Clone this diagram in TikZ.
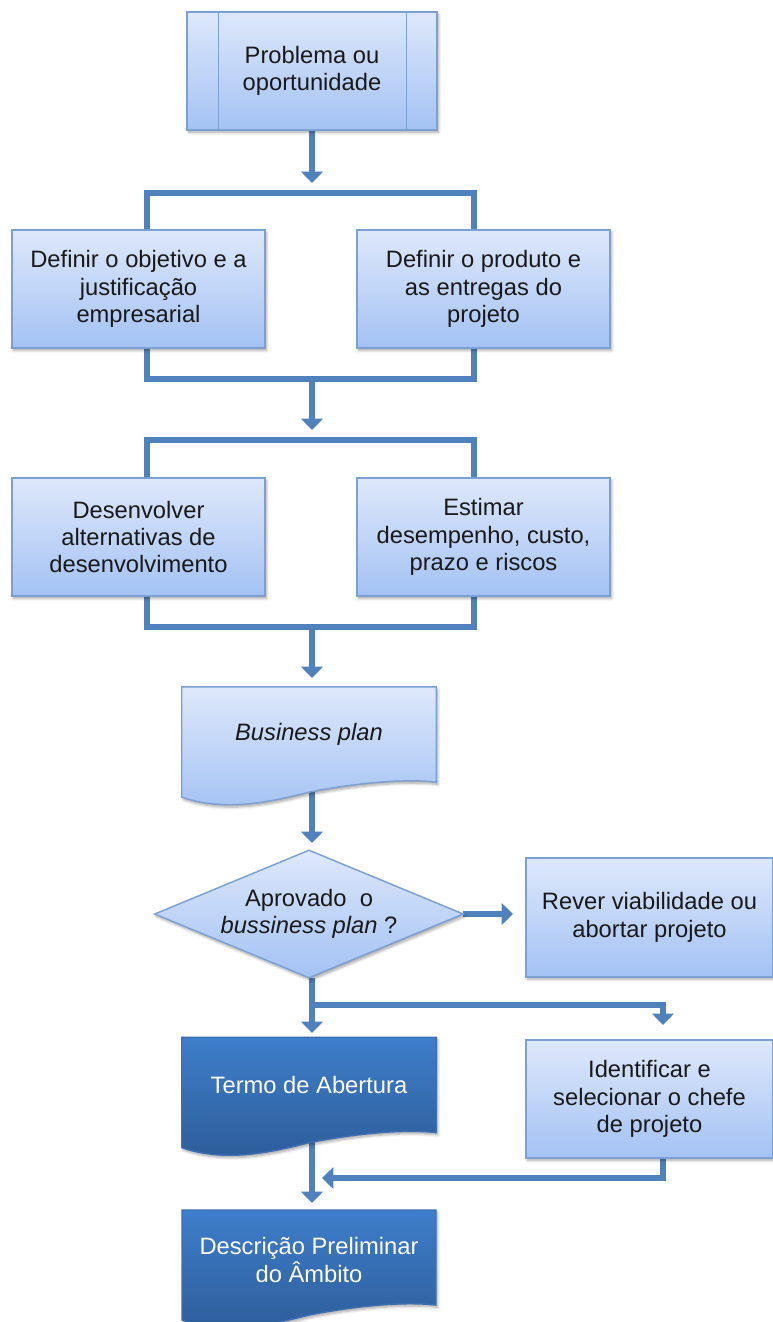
\documentclass[tikz,border=0pt]{standalone}
\usepackage{fontspec}
\setmainfont{Liberation Sans}
\usetikzlibrary{arrows.meta,shadows.blur,backgrounds,calc}

\definecolor{linkblue}{RGB}{79,129,189}
\definecolor{boxtop}{RGB}{222,232,251}
\definecolor{boxbot}{RGB}{163,194,244}
\definecolor{boxline}{RGB}{125,160,210}
\definecolor{darktop}{RGB}{62,126,203}
\definecolor{darkbot}{RGB}{45,92,152}
\definecolor{darkline}{RGB}{60,110,180}
\definecolor{ink}{RGB}{25,25,25}

% document shape: straight top and sides, wavy bottom edge
\newcommand\docpath[1]{(#1.north west) -- (#1.north east) -- (#1.south east)
  .. controls ($(#1.south east)+(-36,-4)$) and ($(#1.south east)+(-86,2)$) .. ($(#1.south east)+(-127,10)$)
  .. controls ($(#1.south west)+(88,20)$) and ($(#1.south west)+(43,30)$) .. ($(#1.south west)+(0,15)$) -- cycle}

\tikzset{
  every node/.style={font=\fontsize{17.8}{20.6}\selectfont, text=ink, align=center},
  softshadow/.style={blur shadow={shadow xshift=1.2pt, shadow yshift=-1.8pt,
      shadow blur radius=2pt, shadow opacity=35, shadow blur steps=6}},
  lightfill/.style={top color=boxtop, bottom color=boxbot, draw=boxline, line width=1.1pt, softshadow},
  darkfill/.style={top color=darktop, bottom color=darkbot, draw=darkline, line width=1.1pt, softshadow},
  stepbox/.style={lightfill, minimum width=189.75pt, minimum height=88.5pt, inner sep=0pt},
  sidebox/.style={lightfill, minimum width=185.25pt, minimum height=89pt, inner sep=0pt},
  doctext/.style={minimum width=190.5pt, minimum height=71pt, inner sep=0pt},
  conn/.style={draw=linkblue, line width=4.5pt},
  arr/.style={conn, -{Triangle[width=16pt,length=8.5pt]}},
}

\begin{document}
\begin{tikzpicture}[x=0.75pt, y=-0.75pt]
\useasboundingbox (0,0) rectangle (773,1322);

% process boxes
\node[stepbox, minimum width=187.5pt] (prob) at (312,71) {Problema ou\\oportunidade};
\draw[boxline, line width=1.1pt] ([xshift=24pt]prob.north west) -- ([xshift=24pt]prob.south west);
\draw[boxline, line width=1.1pt] ([xshift=-23.25pt]prob.north east) -- ([xshift=-23.25pt]prob.south east);

\node[stepbox] (obj)  at (138.5,289) {Definir o objetivo e a\\justificação\\empresarial};
\node[stepbox] (prod) at (483.5,289) {Definir o produto e\\as entregas do\\projeto};
\node[stepbox] (dev)  at (138.5,537) {Desenvolver\\alternativas de\\desenvolvimento};
\node[stepbox] (est)  at (483.5,537) {Estimar\\desempenho, custo,\\prazo e riscos};

\node[doctext] (bp) at (309,734.5) {\itshape Business plan};
\node[minimum width=231pt, minimum height=95.25pt, inner sep=0pt] (dec) at (309,914)
  {Aprovado\ \ o\\\textit{bussiness plan} ?};
\node[sidebox] (rev) at (649.5,917.5) {Rever viabilidade ou\\abortar projeto};
\node[sidebox, minimum height=88.5pt] (idf) at (649.5,1099) {Identificar e\\selecionar o chefe\\de projeto};

\node[doctext, text=white] (ter)  at (309,1085) {Termo de Abertura};
\node[doctext, text=white, yshift=-2pt] (desc) at (309,1257.5) {Descrição Preliminar\\do Âmbito};

% junction points of the connectors
\coordinate (lx) at (147,0);
\coordinate (rx) at (474,0);
\coordinate (j1) at (312,193);
\coordinate (j2) at (312,379);
\coordinate (j3) at (312,440);
\coordinate (j4) at (312,627);
\coordinate (br) at (312,1005);
\coordinate (tipA) at (312,183);
\coordinate (tipB) at (312,430);
\coordinate (tipC) at (312,678);
\coordinate (tipD) at (312,843);
\coordinate (tipE) at (513,914);
\coordinate (tipF) at (312,1033);
\coordinate (tipG) at (663,1025);
\coordinate (tipH) at (322,1178);
\coordinate (tipI) at (312,1203);

\begin{scope}[on background layer]
  % connectors
  \draw[arr] (prob.south -| j1) -- (tipA);
  \draw[conn] (obj.north -| lx) |- (j1) -| (prod.north -| rx);
  \draw[conn] (obj.south -| lx) |- (j2) -| (prod.south -| rx);
  \draw[arr] (j2) -- (tipB);
  \draw[conn] (dev.north -| lx) |- (j3) -| (est.north -| rx);
  \draw[conn] (dev.south -| lx) |- (j4) -| (est.south -| rx);
  \draw[arr] (j4) -- (tipC);
  \draw[arr] (bp.south -| j4) -- (tipD);
  \draw[arr] (dec.east) -- (tipE);
  \draw[arr] (dec.south -| j4) -- (tipF);
  \draw[arr] (br) -| (tipG);
  \draw[arr] (idf.south -| tipG) |- (tipH);
  \draw[arr] (ter.south -| j4) -- (tipI);

  % shaped outlines behind their texts
  \path[lightfill] \docpath{bp};
  \path[lightfill] (dec.north) -- (dec.east) -- (dec.south) -- (dec.west) -- cycle;
  \path[darkfill] \docpath{ter};
  \path[darkfill] (309,1210) -- (436,1210) -- (436,1305)
    .. controls (400,1301) and (350,1307) .. (309,1315)
    .. controls (270,1325) and (225,1335) .. (182,1320) -- (182,1210) -- cycle;
\end{scope}
\end{tikzpicture}
\end{document}
